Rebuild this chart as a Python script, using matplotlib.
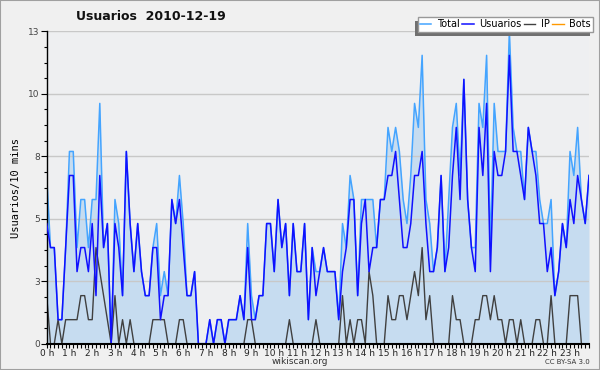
import matplotlib
matplotlib.use("Agg")
import matplotlib.pyplot as plt
import numpy as np
from matplotlib.patches import Rectangle

# 10-minute samples, 2010-12-19
total = [7, 4, 4, 1, 1, 4, 8, 8, 4, 6,
         6, 4, 6, 6, 10, 4, 5, 0, 6, 5,
         2, 8, 5, 3, 5, 3, 2, 2, 4, 5,
         2, 3, 2, 6, 5, 7, 5, 2, 2, 3,
         0, 0, 0, 1, 0, 1, 1, 0, 1, 1,
         1, 2, 1, 5, 2, 1, 2, 2, 5, 5,
         3, 6, 4, 5, 2, 5, 3, 3, 5, 1,
         4, 3, 3, 4, 3, 3, 3, 1, 5, 4,
         7, 6, 2, 6, 6, 6, 6, 4, 6, 6,
         9, 8, 9, 8, 6, 5, 7, 10, 9, 12,
         6, 5, 3, 4, 7, 3, 6, 9, 10, 7,
         11, 6, 4, 4, 10, 9, 12, 4, 10, 8,
         8, 8, 13, 9, 8, 8, 6, 9, 8, 8,
         6, 5, 5, 6, 2, 3, 5, 4, 8, 7,
         9, 6, 5, 7]
usuarios = [5, 4, 4, 1, 1, 4, 7, 7, 3, 4,
            4, 3, 5, 2, 7, 4, 5, 0, 5, 4,
            2, 8, 5, 3, 5, 3, 2, 2, 4, 4,
            1, 2, 2, 6, 5, 6, 4, 2, 2, 3,
            0, 0, 0, 1, 0, 1, 1, 0, 1, 1,
            1, 2, 1, 4, 1, 1, 2, 2, 5, 5,
            3, 6, 4, 5, 2, 5, 3, 3, 5, 1,
            4, 2, 3, 4, 3, 3, 3, 1, 3, 4,
            6, 6, 2, 5, 6, 3, 4, 4, 6, 6,
            7, 7, 8, 6, 4, 4, 5, 7, 7, 8,
            5, 3, 3, 4, 7, 3, 4, 7, 9, 6,
            11, 6, 4, 3, 9, 7, 10, 3, 8, 7,
            7, 8, 12, 8, 8, 7, 6, 9, 8, 7,
            5, 5, 3, 4, 2, 3, 5, 4, 6, 5,
            7, 6, 5, 7]
ip = [2, 0, 0, 1, 0, 1, 1, 1, 1, 2,
      2, 1, 1, 4, 3, 2, 1, 0, 2, 0,
      1, 0, 1, 0, 0, 0, 0, 0, 1, 1,
      1, 1, 0, 0, 0, 1, 1, 0, 0, 0,
      0, 0, 0, 0, 0, 0, 0, 0, 0, 0,
      0, 0, 0, 1, 1, 0, 0, 0, 0, 0,
      0, 0, 0, 0, 1, 0, 0, 0, 0, 0,
      0, 1, 0, 0, 0, 0, 0, 0, 2, 0,
      1, 0, 1, 1, 0, 3, 2, 0, 0, 0,
      2, 1, 1, 2, 2, 1, 2, 3, 2, 4,
      1, 2, 0, 0, 0, 0, 0, 2, 1, 1,
      0, 0, 0, 1, 1, 2, 2, 1, 2, 1,
      1, 0, 1, 1, 0, 1, 0, 0, 0, 1,
      1, 0, 0, 2, 0, 0, 0, 0, 2, 2,
      2, 0, 0, 0]
bots = [0] * 144

hour_labels = ["%d h" % h for h in range(24)]
ytick_vals = [0, 2.6, 5.2, 7.8, 10.4, 13]
ytick_labels = ["0", "3", "5", "8", "10", "13"]

x = np.arange(len(total)) / 6.0

fig = plt.figure(figsize=(6, 3.7), dpi=100, facecolor="#f0f0f0")
ax = fig.add_axes([46.7 / 600, 1 - 343.7 / 370, (589 - 46.7) / 600, (343.7 - 31.3) / 370])
ax.set_facecolor("#eeeff1")

ax.fill_between(x, total, 0, color="#c6dcf0", lw=0, zorder=0.3)
ax.set_axisbelow(True)
ax.yaxis.grid(True, color="#c8c8c8", lw=1.0)

l_bots, = ax.plot(x, bots, color="#ff9900", lw=1.0, zorder=1.5)
l_total, = ax.plot(x, total, color="#44a4ff", lw=1.1, zorder=2)
l_users, = ax.plot(x, usuarios, color="#1010ff", lw=1.1, zorder=3)
l_ip, = ax.plot(x, ip, color="#404040", lw=1.0, zorder=2.5)

ax.set_xlim(0, x[-1])
ax.set_ylim(0, 13)

ax.set_xticks(np.arange(24))
ax.set_xticklabels(hour_labels, fontsize=6.5, color="#222222")
ax.set_xticks(x, minor=True)
ax.set_yticks(ytick_vals)
ax.set_yticklabels(ytick_labels, fontsize=6.5, color="#444444")
ax.set_yticks(np.arange(0, 13.01, 0.65), minor=True)
ax.tick_params(axis="x", which="both", direction="out", length=3, width=0.8, pad=1)
ax.tick_params(axis="y", which="major", direction="out", length=4, width=0.8, pad=1)
ax.tick_params(axis="y", which="minor", direction="out", length=2.5, width=0.8)

for side in ("top", "right"):
    ax.spines[side].set_visible(False)
ax.spines["left"].set_linewidth(1.0)
ax.spines["bottom"].set_linewidth(1.5)
ax.spines["bottom"].set_zorder(4)

ax.set_ylabel("Usuarios/10 mins", fontsize=7.5, family="DejaVu Sans Mono", labelpad=5)

fig.text(151 / 600, 1 - 17 / 370, "Usuarios  2010-12-19", fontsize=9, fontweight="bold",
         ha="center", va="center", color="#111111")
fig.text(300 / 600, 1 - 362 / 370, "wikiscan.org", fontsize=6.5, ha="center", va="center", color="#333333")
fig.text(590 / 600, 1 - 362 / 370, "CC BY-SA 3.0", fontsize=5, ha="right", va="center", color="#333333")

leg = fig.legend([l_total, l_users, l_ip, l_bots], ["Total", "Usuarios", "IP", "Bots"],
                 loc="upper right", bbox_to_anchor=(593 / 600, 1 - 17 / 370),
                 bbox_transform=fig.transFigure, ncol=4, fontsize=7, frameon=True,
                 fancybox=False, handlelength=1.15, handletextpad=0.55, columnspacing=0.3,
                 borderpad=0.25, borderaxespad=0)
leg.get_frame().set_edgecolor("#999999")
leg.get_frame().set_linewidth(1.0)
leg.get_frame().set_alpha(1)
leg.set_zorder(10)

# shadow sits left and below the legend box
fig.canvas.draw()
bb = leg.get_window_extent()
fig.patches.append(Rectangle(((bb.x0 - 3) / 600, (bb.y0 - 4) / 370), bb.width / 600, bb.height / 370,
                             transform=fig.transFigure, facecolor="#707070", edgecolor="none", zorder=9))

# image border
fig.patches.append(Rectangle((0, 0), 1, 1, transform=fig.transFigure, fill=False,
                             edgecolor="#a0a0a0", lw=1.5, zorder=20))

fig.savefig("out.png", dpi=100, facecolor=fig.get_facecolor())
